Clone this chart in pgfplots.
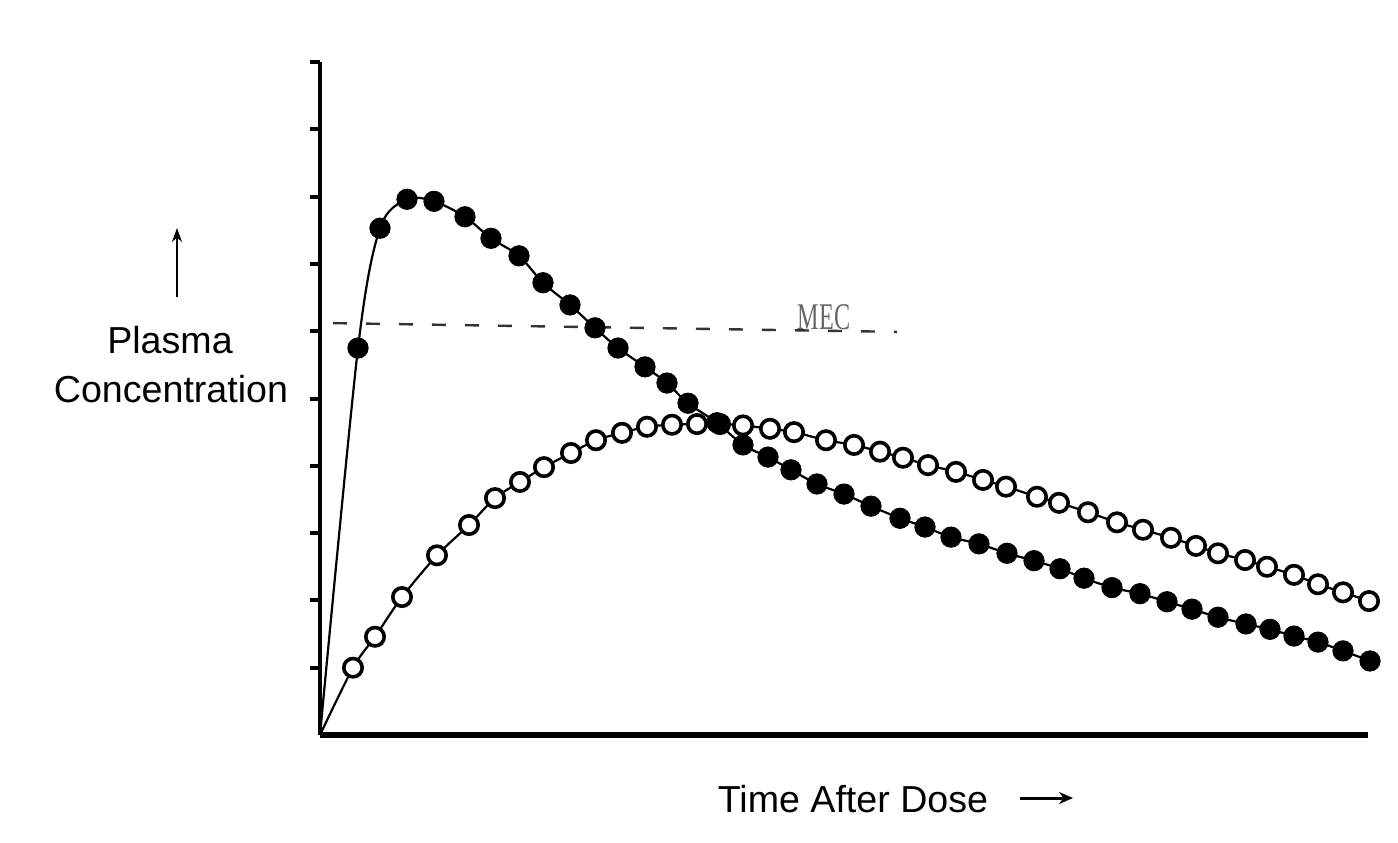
\documentclass[border=0pt]{standalone}
\usepackage{pgfplots}
\pgfplotsset{compat=1.18}
\usepackage{pgfplotstable}
\usepackage{fontspec}
\setmainfont{Liberation Sans}
\newfontfamily\mecfont{Liberation Serif}
\usetikzlibrary{arrows.meta}

\pgfplotstableread{
x y
0 0
38 5.75
60 7.53
87 7.96
114 7.93
145 7.70
171 7.38
199 7.12
223 6.72
250 6.39
275 6.05
298 5.75
325 5.47
347 5.23
368 4.93
397 4.64
423 4.31
448 4.13
471 3.94
497 3.73
524 3.58
551 3.40
580 3.22
605 3.09
631 2.94
659 2.84
687 2.70
714 2.59
740 2.47
764 2.33
792 2.19
820 2.10
847 1.98
872 1.87
898 1.75
926 1.65
950 1.57
974 1.47
998 1.38
1023 1.25
1050 1.10
}\filledpts

\pgfplotstableread{
x y
0 0
33 1.00
55 1.46
82 2.05
117 2.67
149 3.12
175 3.52
200 3.76
224 3.98
251 4.19
276 4.38
302 4.49
327 4.58
352 4.61
377 4.62
400 4.62
423 4.60
450 4.55
474 4.50
506 4.38
534 4.31
560 4.21
583 4.12
608 4.01
636 3.91
663 3.79
686 3.69
717 3.54
739 3.45
768 3.31
797 3.16
823 3.05
851 2.93
876 2.81
898 2.70
925 2.60
947 2.50
974 2.38
998 2.24
1023 2.12
1049 1.99
}\openpts

\begin{document}
\begin{tikzpicture}
\useasboundingbox (-160pt,-53.5pt) rectangle (539pt,367.5pt);
\begin{axis}[
  at={(0pt,0pt)}, anchor=south west,
  scale only axis, width=524pt, height=336.5pt,
  xmin=0, xmax=1048, ymin=0, ymax=10,
  axis x line*=bottom, axis y line*=left,
  x axis line style={line width=2.8pt},
  y axis line style={line width=2.4pt},
  xtick=\empty, ytick={1,2,...,10},
  yticklabel style={opacity=0, text opacity=0},
  tick align=outside, major tick length=5pt,
  tick style={line width=2pt, black},
  clip=false,
]
\addplot[smooth, line width=1.1pt, black, no markers] table[x=x,y=y]{\openpts};
\addplot[smooth, line width=1.1pt, black, no markers] table[x=x,y=y]{\filledpts};
\addplot[only marks, mark=*, mark size=4.6pt, mark options={line width=1.8pt, fill=white, draw=black}, skip coords between index={0}{1}] table[x=x,y=y]{\openpts};
\addplot[only marks, mark=*, mark size=5.1pt, black, skip coords between index={0}{1}] table[x=x,y=y]{\filledpts};
\addplot[black!80, line width=1.2pt, dash pattern=on 7pt off 9.5pt, no markers] coordinates {(13,6.12) (577,5.99)};
\node[font=\mecfont\fontsize{13}{13}\selectfont, text=black!60, anchor=base, xscale=0.93, yscale=1.45] at (axis cs:504,6.02) {MEC};
\end{axis}
\node[anchor=base, font=\fontsize{18.8}{22}\selectfont] at (-75pt,190.5pt) {Plasma};
\node[anchor=base, font=\fontsize{18.8}{22}\selectfont] at (-74.5pt,166.5pt) {Concentration};
\draw[line width=1.2pt, -{Stealth[length=7pt,width=5pt]}] (-71.5pt,219pt) -- (-71.5pt,253.5pt);
\node[anchor=base, font=\fontsize{18.8}{22}\selectfont] at (266.5pt,-38.5pt) {Time After Dose};
\draw[line width=1.5pt, -{Stealth[length=7pt,width=6pt]}] (350pt,-31.5pt) -- (376.5pt,-31.5pt);
\end{tikzpicture}
\end{document}
